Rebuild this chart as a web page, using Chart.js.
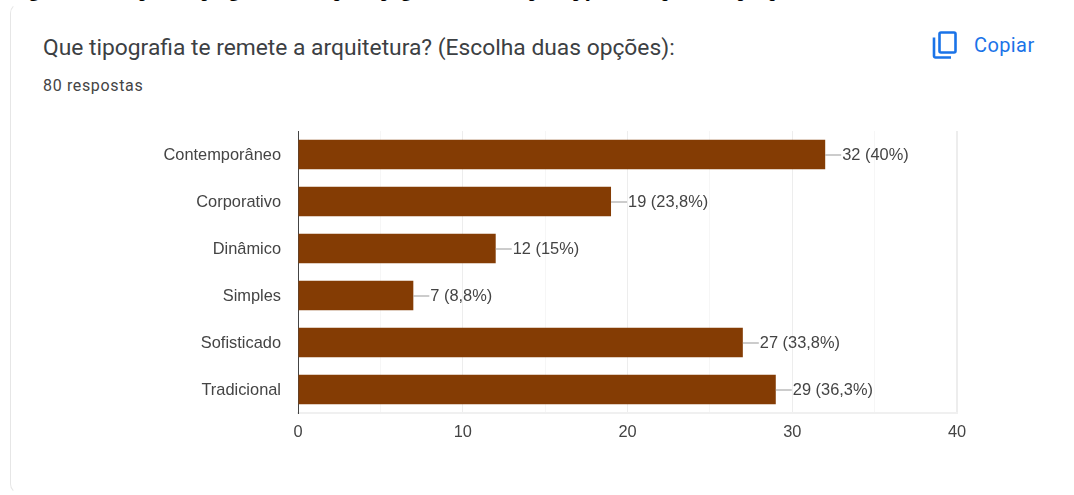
<!DOCTYPE html>
<html lang="pt-BR">
<head>
<meta charset="utf-8">
<title>Tipografia e arquitetura</title>
<script src="https://cdn.jsdelivr.net/npm/chart.js@4"></script>
<style>
  html, body { margin: 0; padding: 0; background: #fff; width: 1074px; height: 495px; overflow: hidden; }
  #caption { position: absolute; left: 12px; top: -20px; white-space: nowrap; font: bold 19px "Liberation Serif", serif; color: #000; }
  #card { position: absolute; left: 10px; top: 3px; width: 1061px; height: 491px; box-sizing: border-box;
          border: 1.5px solid transparent; border-left-color: #e6e6e6; border-radius: 10px; }
  #title { position: absolute; left: 43px; top: 34px; font: 400 22.8px Roboto, sans-serif; color: #3c4043; white-space: nowrap; }
  #count { position: absolute; left: 43px; top: 76px; font: 400 16px Roboto, sans-serif; letter-spacing: .65px; color: #444; white-space: nowrap; }
  #copy { position: absolute; left: 974px; top: 33px; font: 400 20px Roboto, sans-serif; letter-spacing: .4px; color: #1a73e8; }
  #icon { position: absolute; left: 929px; top: 28px; }
  canvas { position: absolute; left: 0; top: 0; }
</style>
</head>
<body>
<div id="caption">Figura 37 – Resposta à pergunta sobre qual tipografia remete à percepção de arquitetura pesquisa</div>
<div id="card"></div>
<div id="title">Que tipografia te remete a arquitetura? (Escolha duas opções):</div>
<div id="count">80 respostas</div>
<svg id="icon" width="32" height="34" viewBox="0 0 32 34" fill="none" stroke="#1a73e8" stroke-width="2.6">
  <path d="M5 9.5 V28 a1.5 1.5 0 0 0 1.5 1.5 H22"/>
  <rect x="10.5" y="4.5" width="16" height="20" rx="1.5"/>
</svg>
<div id="copy">Copiar</div>
<canvas id="myChart" width="1074" height="495"></canvas>
<script>
const categories = ["Contemporâneo", "Corporativo", "Dinâmico", "Simples", "Sofisticado", "Tradicional"];
const respostas = [32, 19, 12, 7, 27, 29];
const percentuais = ["40%", "23,8%", "15%", "8,8%", "33,8%", "36,3%"];

const textColor = "#444";
const fontFamily = '"Liberation Sans", Arial, sans-serif';
const fontSize = 16.4;

// valeur + pourcentage au bout de chaque barre, avec un petit trait
const barLabels = {
  id: "barLabels",
  afterDatasetsDraw(chart) {
    const ctx = chart.ctx;
    const bars = chart.getDatasetMeta(0).data;
    ctx.save();
    ctx.font = fontSize + "px " + fontFamily;
    ctx.textBaseline = "middle";
    bars.forEach((bar, i) => {
      const end = chart.scales.x.getPixelForValue(respostas[i]);
      ctx.strokeStyle = "#999";
      ctx.lineWidth = 1;
      ctx.beginPath();
      ctx.moveTo(end, bar.y + 0.5);
      ctx.lineTo(end + 16, bar.y + 0.5);
      ctx.stroke();
      ctx.fillStyle = textColor;
      ctx.fillText(respostas[i] + " (" + percentuais[i] + ")", end + 17, bar.y + 1);
    });
    ctx.restore();
  }
};

const config = {
  type: "bar",
  data: {
    labels: categories,
    datasets: [{
      data: respostas,
      backgroundColor: "#843c04",
      barPercentage: 0.63,
      categoryPercentage: 1
    }]
  },
  options: {
    indexAxis: "y",
    responsive: false,
    animation: false,
    layout: { padding: { top: 131, right: 117, bottom: 52 } },
    plugins: { legend: false, tooltip: { enabled: false } },
    scales: {
      x: {
        min: 0,
        max: 40,
        afterFit: (scale) => { scale.height = 30; },
        border: { color: "#f0f0f0", width: 2 },
        grid: {
          drawTicks: false,
          color: (c) => (c.tick.value % 10 === 0 ? "#ededed" : "#f6f6f6"),
          lineWidth: (c) => (c.tick.value === 40 ? 2 : 1)
        },
        ticks: {
          stepSize: 5,
          autoSkip: false,
          maxRotation: 0,
          padding: 10,
          color: textColor,
          font: { family: fontFamily, size: fontSize },
          callback: (v) => (v % 10 === 0 ? v : "")
        }
      },
      y: {
        afterFit: (scale) => { scale.width = 298; },
        border: { color: "#444", width: 1 },
        grid: { display: false },
        ticks: {
          padding: 9,
          labelOffset: 1,
          color: textColor,
          font: { family: fontFamily, size: fontSize }
        }
      }
    }
  },
  plugins: [barLabels]
};

new Chart(document.getElementById("myChart").getContext("2d"), config);
</script>
</body>
</html>
